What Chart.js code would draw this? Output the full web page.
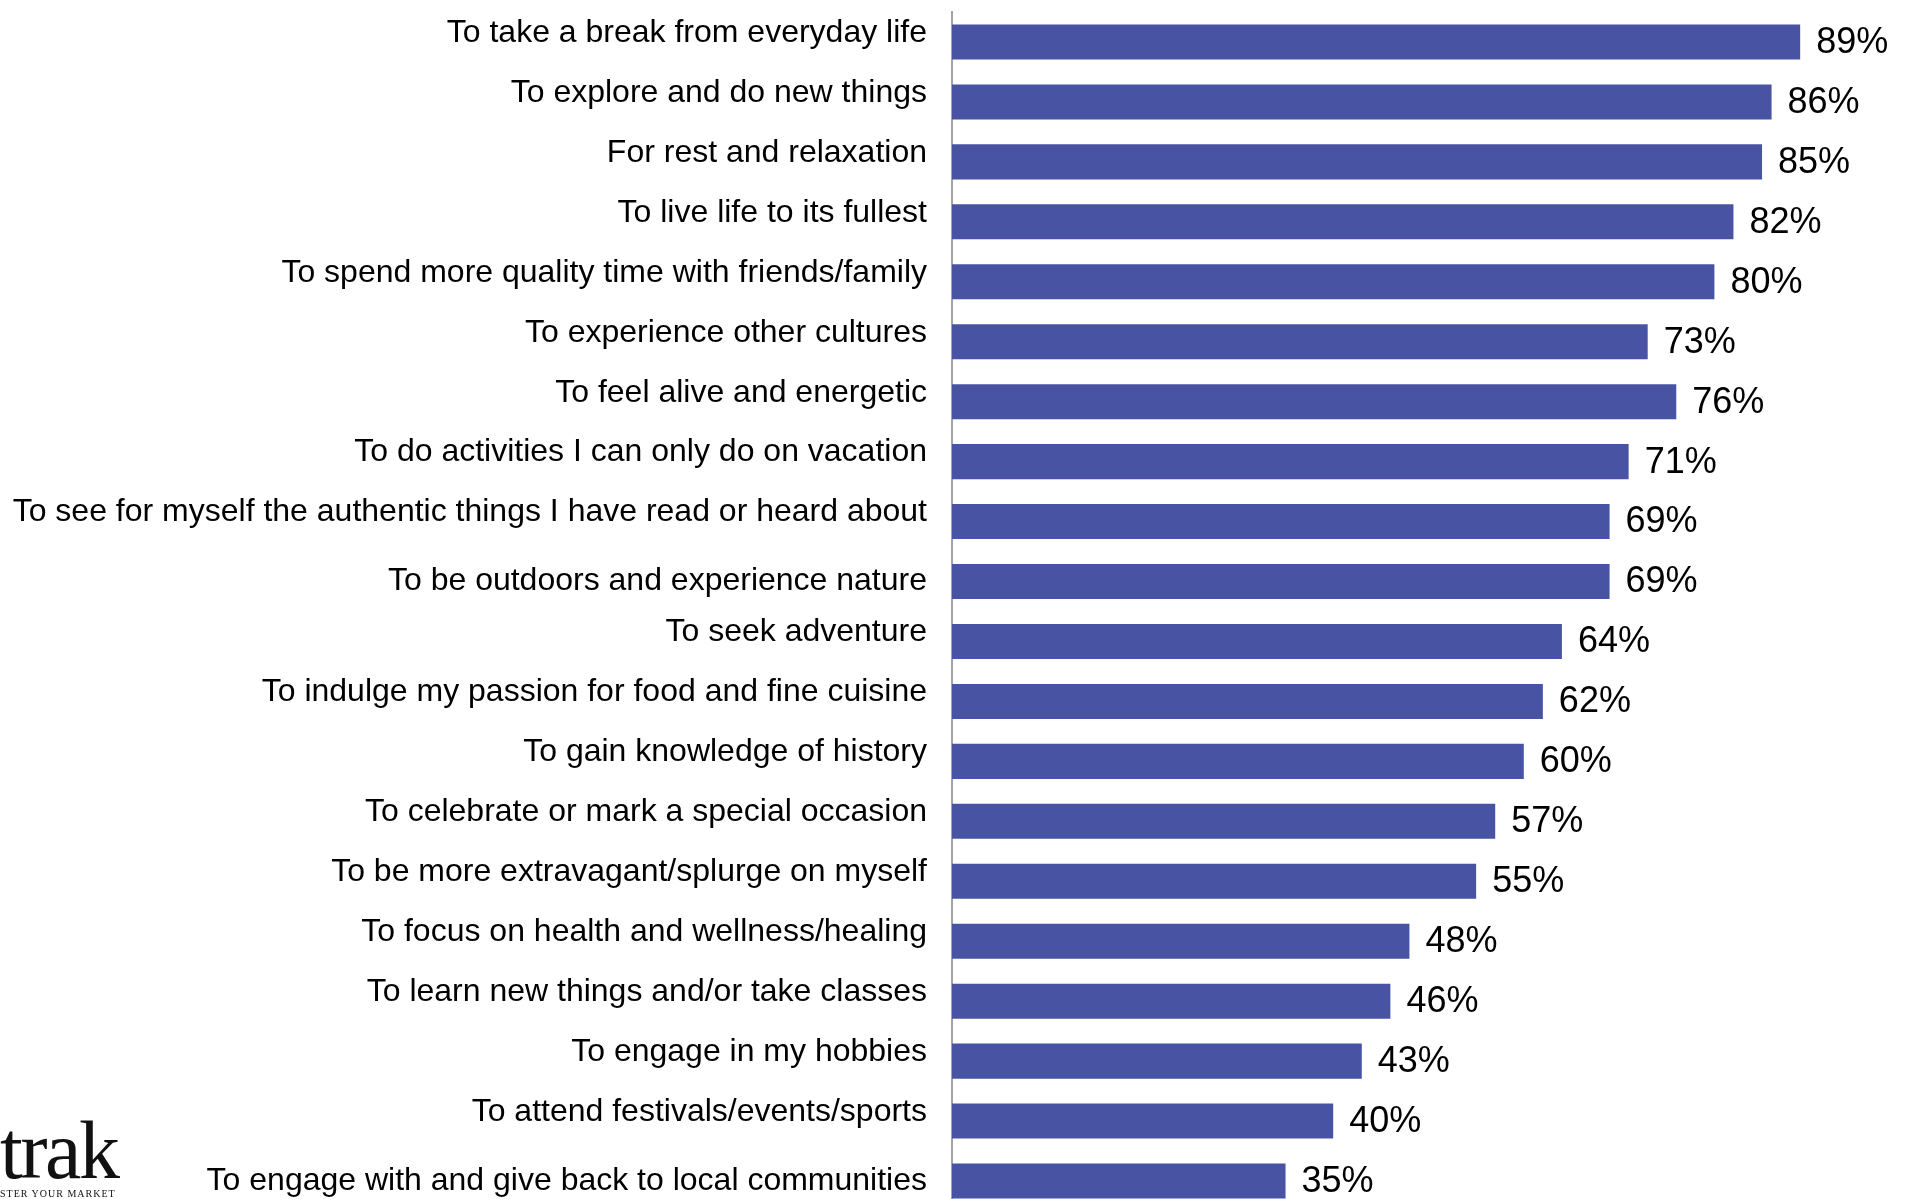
<!DOCTYPE html>
<html>
<head>
<meta charset="utf-8">
<script src="https://cdn.jsdelivr.net/npm/chart.js@4"></script>
<style>
  html, body { margin: 0; padding: 0; background: #fff; overflow: hidden; }
  #wrap { position: relative; width: 1905px; height: 1199px; overflow: hidden; }
  #chart { position: absolute; left: 0; top: 0; }
  .logo { position: absolute; left: 0; font-family: 'Liberation Serif', 'DejaVu Serif', serif; color: #111; white-space: nowrap; line-height: 1; }
  .logo-word { top: 1110px; font-size: 82px; letter-spacing: -2.5px; }
  .logo-tag { top: 1189px; font-size: 10px; letter-spacing: 1px; }
</style>
</head>
<body>
<div id="wrap">
  <canvas id="chart" width="1905" height="1211"></canvas>
  <div class="logo logo-word">trak</div>
  <div class="logo logo-tag">STER YOUR MARKET</div>
</div>
<script>
const REASONS = [
  'To take a break from everyday life',
  'To explore and do new things',
  'For rest and relaxation',
  'To live life to its fullest',
  'To spend more quality time with friends/family',
  'To experience other cultures',
  'To feel alive and energetic',
  'To do activities I can only do on vacation',
  'To see for myself the authentic things I have read or heard about',
  'To be outdoors and experience nature',
  'To seek adventure',
  'To indulge my passion for food and fine cuisine',
  'To gain knowledge of history',
  'To celebrate or mark a special occasion',
  'To be more extravagant/splurge on myself',
  'To focus on health and wellness/healing',
  'To learn new things and/or take classes',
  'To engage in my hobbies',
  'To attend festivals/events/sports',
  'To engage with and give back to local communities',
];
const SHARES = [89, 86, 85, 82, 80, 73, 76, 71, 69, 69, 64, 62, 60, 57, 55, 48, 46, 43, 40, 35];

const BAR_COLOR = '#4854a3';
const FONT = "'Liberation Sans', Arial, sans-serif";

// labels sit a bit above their bars in the original, except these two
const CENTERED_LABELS = [9, 19];

const valueLabels = {
  id: 'valueLabels',
  afterDatasetsDraw(chart) {
    const { ctx } = chart;
    const meta = chart.getDatasetMeta(0);
    ctx.save();
    ctx.font = `36px ${FONT}`;
    ctx.fillStyle = '#000';
    ctx.textAlign = 'left';
    ctx.textBaseline = 'middle';
    meta.data.forEach((bar, i) => {
      ctx.fillText(SHARES[i] + '%', bar.x + 16, bar.y + 1);
    });
    ctx.restore();
  },
};

new Chart(document.getElementById('chart'), {
  type: 'bar',
  data: {
    labels: REASONS,
    datasets: [{
      data: SHARES,
      backgroundColor: BAR_COLOR,
      borderWidth: 0,
      categoryPercentage: 1,
      barPercentage: 0.585,
    }],
  },
  options: {
    indexAxis: 'y',
    responsive: false,
    animation: false,
    layout: { padding: { top: 12, right: 0, bottom: 0, left: 0 } },
    plugins: { legend: { display: false }, tooltip: { enabled: false } },
    scales: {
      x: { display: false, min: 0, max: 100 },
      y: {
        grid: { display: false, drawTicks: false },
        border: { display: true, color: '#a3a3a3', width: 2 },
        afterFit: (scale) => {
          scale.width = 952;
          scale.paddingTop = 0;
          scale.paddingBottom = 0;
        },
        ticks: {
          autoSkip: false,
          padding: 25,
          color: '#000',
          font: { family: FONT, size: 32, lineHeight: '18px' },
          callback: function (value, index) {
            const label = this.getLabelForValue(value);
            return CENTERED_LABELS.includes(index) ? label : [label, ''];
          },
        },
      },
    },
  },
  plugins: [valueLabels],
});
</script>
</body>
</html>
